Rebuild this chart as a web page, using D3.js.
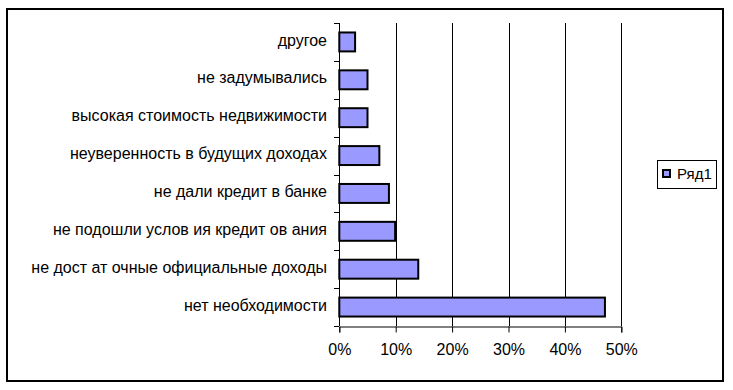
<!DOCTYPE html>
<html><head><meta charset="utf-8">
<script src="https://cdn.jsdelivr.net/npm/d3@7"></script>
<style>body{margin:0;background:#fff}text{font-family:"Liberation Sans",Arial,sans-serif}</style>
</head><body>
<script>
const categories = ["другое","не задумывались","высокая стоимость недвижимости","неуверенность в будущих доходах","не дали кредит в банке","не подошли услов ия кредит ов ания","не дост ат очные официальные доходы","нет необходимости"];
const values = [0.028, 0.05, 0.05, 0.071, 0.088, 0.099, 0.14, 0.471];
const tickValues = [0, 0.1, 0.2, 0.3, 0.4, 0.5];
const seriesName = "Ряд1";

(function () {
const W = 733, H = 390;
const svg = d3.select("body").append("svg").attr("width", W).attr("height", H);

svg.append("rect").attr("x", 7).attr("y", 9).attr("width", 716).attr("height", 372)
  .attr("fill", "#fff").attr("stroke", "#000").attr("stroke-width", 2);

const pL = 339.3, pR = 621.3, pT = 23, pB = 326;
const x = d3.scaleLinear().domain([0, 0.5]).range([pL, pR]);
const y = d3.scaleBand().domain(categories).range([pT, pB]).paddingInner(0.5).paddingOuter(0.25);

// gridlines
svg.append("g").selectAll("line").data(tickValues.slice(1)).join("line")
  .attr("x1", d => Math.round(x(d)) + 0.5).attr("x2", d => Math.round(x(d)) + 0.5)
  .attr("y1", pT).attr("y2", pB).attr("stroke", "#000").attr("stroke-width", 1);

// bars
svg.append("g").selectAll("rect").data(categories).join("rect")
  .attr("x", x(0)).attr("y", d => y(d))
  .attr("width", (d, i) => x(values[i]) - x(0)).attr("height", y.bandwidth())
  .attr("fill", "#9999FF").attr("stroke", "#000").attr("stroke-width", 2);

// y axis line + boundary ticks
const step = (pB - pT) / categories.length;
const bounds = d3.range(categories.length + 1).map(i => pT + i * step);
svg.append("line").attr("x1", Math.round(pL) + 0.5).attr("x2", Math.round(pL) + 0.5)
  .attr("y1", pT).attr("y2", pB).attr("stroke", "#000");
svg.append("g").selectAll("line").data(bounds).join("line")
  .attr("x1", Math.round(pL) - 5).attr("x2", Math.round(pL))
  .attr("y1", d => Math.round(d) + 0.5).attr("y2", d => Math.round(d) + 0.5).attr("stroke", "#000");

// category labels
svg.append("g").selectAll("text").data(categories).join("text")
  .attr("x", 327).attr("y", d => y(d) + y.bandwidth() / 2 - 2).attr("dy", "0.35em")
  .attr("text-anchor", "end").attr("font-size", 16).attr("fill", "#000").text(d => d);

// x axis
const xAxis = d3.axisBottom(x).tickValues(tickValues).tickFormat(d3.format(".0%")).tickSize(6).tickPadding(11);
const gx = svg.append("g").attr("transform", `translate(0,${Math.round(pB) + 0.5})`).call(xAxis);
gx.select(".domain").attr("stroke", "#000");
gx.selectAll(".tick line").attr("stroke", "#000");
gx.selectAll("text").attr("font-size", 16).attr("font-family", "Liberation Sans, Arial, sans-serif").attr("fill", "#000");

// legend
const lg = svg.append("g");
lg.append("rect").attr("x", 657.5).attr("y", 160.5).attr("width", 59).attr("height", 28)
  .attr("fill", "#fff").attr("stroke", "#000").attr("stroke-width", 1);
lg.append("rect").attr("x", 663).attr("y", 170).attr("width", 7).attr("height", 7)
  .attr("fill", "#9999FF").attr("stroke", "#000").attr("stroke-width", 2);
lg.append("text").attr("x", 677).attr("y", 174).attr("dy", "0.35em").attr("font-size", 15).attr("fill", "#000").text(seriesName);
})();
</script>
</body></html>
